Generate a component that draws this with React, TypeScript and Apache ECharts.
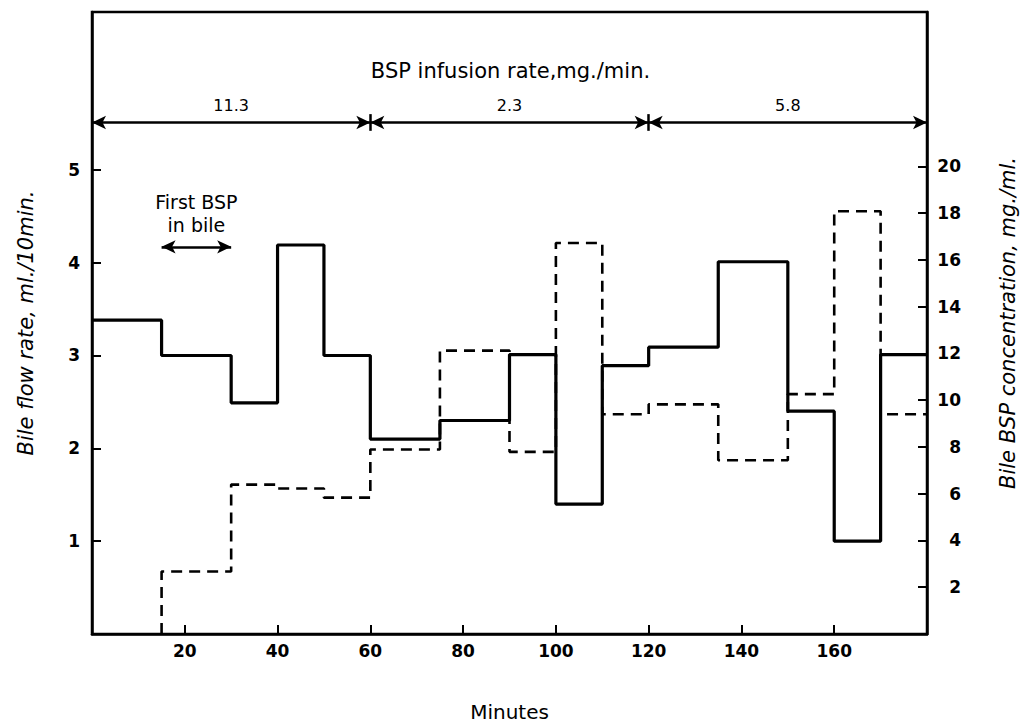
import React, { useEffect, useRef } from "react";
import * as echarts from "echarts";

// Time breakpoints (minutes) and bile flow rate per interval (ml./10 min)
const minutes = [0, 15, 30, 40, 50, 60, 75, 90, 100, 110, 120, 135, 150, 160, 170, 180];
const flowRate = [3.38, 3.0, 2.49, 4.19, 3.0, 2.1, 2.3, 3.01, 1.4, 2.89, 3.09, 4.01, 2.4, 1.0, 3.01];

// BSP concentration in bile (mg./ml.), first detected at 15 min
const concMinutes = [15, 30, 40, 50, 60, 75, 90, 100, 110, 120, 135, 150, 160, 170, 180];
const concentration = [2.67, 6.39, 6.22, 5.83, 7.89, 12.12, 7.79, 16.72, 9.4, 9.82, 7.43, 10.26, 18.08, 9.4];

// Infusion phases
const phaseStart = [0, 60, 120];
const phaseEnd = [60, 120, 180];
const phaseRate = ["11.3", "2.3", "5.8"];

// First BSP in bile window
const firstBspStart = 15;
const firstBspEnd = 30;

// Tick labels
const xTicks = [20, 40, 60, 80, 100, 120, 140, 160];
const flowTicks = [1, 2, 3, 4, 5];
const concTicks = [2, 4, 6, 8, 10, 12, 14, 16, 18, 20];

const FLOW_MAX = 6.7;
const CONC_MAX = 26.6;
const ARROW_Y = 5.51;
const FIRST_Y = 4.17;
const TICK_HALF = 0.09;

const FONT = "DejaVu Sans";

export default function App() {
  const ref = useRef<HTMLDivElement>(null);

  useEffect(() => {
    if (!ref.current) return;
    const chart = echarts.init(ref.current, null, { renderer: "svg" });

    const flowData = minutes.map((m, i) => [m, flowRate[Math.min(i, flowRate.length - 1)]]);
    const concData = [[concMinutes[0], 0]].concat(
      concMinutes.map((m, i) => [m, concentration[Math.min(i, concentration.length - 1)]])
    );

    const arrowLines: any[] = phaseStart.map((s, i) => [
      {
        coord: [s, ARROW_Y],
        name: phaseRate[i],
        symbol: "arrow",
      },
      { coord: [phaseEnd[i], ARROW_Y], symbol: "arrow" },
    ]);
    const crossTicks: any[] = phaseEnd.slice(0, -1).map((e) => [
      { coord: [e, ARROW_Y - TICK_HALF], symbol: "none", label: { show: false } },
      { coord: [e, ARROW_Y + TICK_HALF], symbol: "none" },
    ]);
    const firstLine: any[] = [
      [
        {
          coord: [firstBspStart, FIRST_Y],
          name: "First BSP\nin bile",
          symbol: "arrow",
          label: {
            fontSize: 19,
            lineHeight: 23,
            distance: 10,
          },
        },
        { coord: [firstBspEnd, FIRST_Y], symbol: "arrow" },
      ],
    ];

    chart.setOption({
      animation: false,
      backgroundColor: "#fff",
      title: {
        text: "BSP infusion rate,mg./min.",
        left: "center",
        top: 55,
        textStyle: { fontFamily: FONT, fontSize: 21, fontWeight: "normal", color: "#000" },
      },
      grid: {
        left: 92,
        right: 94,
        top: 12,
        bottom: 89,
        containLabel: false,
        outerBoundsMode: "none",
        show: true,
        borderColor: "#000",
        borderWidth: 2.5,
      },
      xAxis: {
        type: "value",
        min: 0,
        max: 180,
        interval: 20,
        name: "Minutes",
        nameLocation: "middle",
        nameGap: 68,
        nameTextStyle: { fontFamily: FONT, fontSize: 20, color: "#000" },
        axisLine: { show: true, lineStyle: { color: "#000", width: 2.5 } },
        axisTick: { show: true, inside: true, length: 9, customValues: xTicks, lineStyle: { color: "#000", width: 2 } },
        axisLabel: {
          customValues: xTicks,
          margin: 8,
          fontFamily: FONT,
          fontWeight: "bold",
          fontSize: 17,
          color: "#000",
        },
        splitLine: { show: false },
      },
      yAxis: [
        {
          type: "value",
          min: 0,
          max: FLOW_MAX,
          position: "left",
          name: "Bile flow rate, ml./10min.",
          nameLocation: "middle",
          nameRotate: 90,
          nameGap: 56,
          nameTextStyle: { fontFamily: FONT, fontSize: 21, fontStyle: "italic", color: "#000" },
          axisLine: { show: true, lineStyle: { color: "#000", width: 2.5 } },
          axisTick: { show: true, inside: true, length: 9, customValues: flowTicks, lineStyle: { color: "#000", width: 2 } },
          axisLabel: {
            customValues: flowTicks,
            margin: 12,
            fontFamily: FONT,
            fontWeight: "bold",
            fontSize: 17,
            color: "#000",
          },
          splitLine: { show: false },
        },
        {
          type: "value",
          min: 0,
          max: CONC_MAX,
          position: "right",
          name: "Bile BSP concentration, mg./ml.",
          nameLocation: "middle",
          nameRotate: 90,
          nameGap: 70,
          nameTextStyle: { fontFamily: FONT, fontSize: 21, fontStyle: "italic", color: "#000" },
          axisLine: { show: true, lineStyle: { color: "#000", width: 2.5 } },
          axisTick: { show: true, inside: true, length: 9, customValues: concTicks, lineStyle: { color: "#000", width: 2 } },
          axisLabel: {
            customValues: concTicks,
            margin: 34,
            align: "right",
            fontFamily: FONT,
            fontWeight: "bold",
            fontSize: 17,
            color: "#000",
          },
          splitLine: { show: false },
        },
      ],
      series: [
        {
          name: "Bile flow rate",
          type: "line",
          yAxisIndex: 0,
          step: "end",
          data: flowData,
          showSymbol: false,
          symbol: "none",
          lineStyle: { color: "#000", width: 3.2 },
          z: 3,
          markLine: {
            silent: true,
            symbolSize: [10, 14],
            lineStyle: { color: "#000", width: 2.5, type: "solid" },
            label: {
              show: true,
              position: "insideMiddleTop",
              formatter: "{b}",
              fontFamily: FONT,
              fontSize: 16,
              color: "#000",
              distance: 9,
            },
            emphasis: { disabled: true },
            data: [...arrowLines, ...crossTicks, ...firstLine],
          },
        },
        {
          name: "Bile BSP concentration",
          type: "line",
          yAxisIndex: 1,
          step: "end",
          data: concData,
          showSymbol: false,
          symbol: "none",
          lineStyle: { color: "#000", width: 2.6, type: [11, 7] },
          z: 2,
        },
      ],
    });

    return () => chart.dispose();
  }, []);

  return (
    <div
      ref={ref}
      style={{ position: "fixed", left: 0, top: 0, width: 1021, height: 723, background: "#fff" }}
    />
  );
}
